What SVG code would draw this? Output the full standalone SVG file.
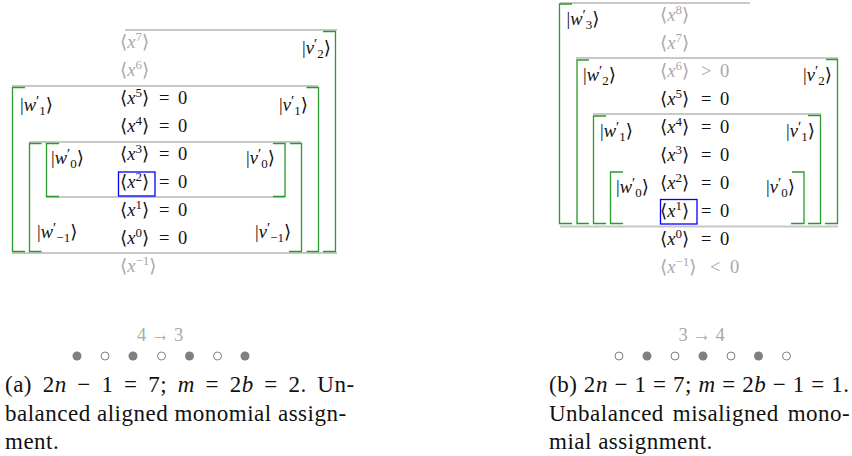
<svg xmlns="http://www.w3.org/2000/svg" width="852" height="456" viewBox="0 0 852 456">
<style>
.bg{fill:#fff}
.gl{stroke:#c8c8c8;stroke-width:2;fill:none}
.gr{stroke:#2a9a2a;stroke-width:1.3;fill:none}
.bx{stroke:#0000ff;stroke-width:1.3;fill:none}
.m{font-family:"Liberation Serif","DejaVu Serif",serif;font-size:18.5px;fill:#111}
.g{fill:#a8a8a8}
.i{font-style:italic}
.s{font-size:13px}
.p{font-size:15px}
.cap{font-family:"Liberation Serif","DejaVu Serif",serif;font-size:23px;letter-spacing:0.5px;fill:#111}
.df{fill:#808080}
.dh{fill:#fff;stroke:#808080;stroke-width:1}
</style>
<rect class="bg" x="0" y="0" width="852" height="456"/>

<!-- ===== Panel (a) ===== -->
<g id="a-lines">
<path class="gl" d="M125,30H337M12,86H318M29,142H301M46,197H285M12,253H337"/>
</g>
<g id="a-connectors">
<path class="gr" d="M25,87.5H12.5V251.5H25"/>
<path class="gr" d="M41.5,143.5H29.5V251.5H41.5"/>
<path class="gr" d="M59,143.5H46.5V196.5H59"/>
<path class="gr" d="M323,31.5H335.5V251.5H323"/>
<path class="gr" d="M306.5,87.5H318.5V251.5H306.5"/>
<path class="gr" d="M290,143.5H301.5V251.5H289"/>
<path class="gr" d="M273,143.5H285V196.5H273"/>
</g>
<g id="a-monomials">
<text class="m g" x="120" y="48">⟨<tspan class="i">x</tspan><tspan class="s" dy="-7">7</tspan><tspan dy="7">⟩</tspan></text>
<text class="m g" x="120" y="76">⟨<tspan class="i">x</tspan><tspan class="s" dy="-7">6</tspan><tspan dy="7">⟩</tspan></text>
<text class="m" x="120" y="104">⟨<tspan class="i">x</tspan><tspan class="s" dy="-7">5</tspan><tspan dy="7">⟩</tspan><tspan x="159">=</tspan><tspan x="178">0</tspan></text>
<text class="m" x="120" y="132">⟨<tspan class="i">x</tspan><tspan class="s" dy="-7">4</tspan><tspan dy="7">⟩</tspan><tspan x="159">=</tspan><tspan x="178">0</tspan></text>
<text class="m" x="120" y="160">⟨<tspan class="i">x</tspan><tspan class="s" dy="-7">3</tspan><tspan dy="7">⟩</tspan><tspan x="159">=</tspan><tspan x="178">0</tspan></text>
<text class="m" x="120" y="188">⟨<tspan class="i">x</tspan><tspan class="s" dy="-7">2</tspan><tspan dy="7">⟩</tspan><tspan x="159">=</tspan><tspan x="178">0</tspan></text>
<text class="m" x="120" y="216">⟨<tspan class="i">x</tspan><tspan class="s" dy="-7">1</tspan><tspan dy="7">⟩</tspan><tspan x="159">=</tspan><tspan x="178">0</tspan></text>
<text class="m" x="120" y="244">⟨<tspan class="i">x</tspan><tspan class="s" dy="-7">0</tspan><tspan dy="7">⟩</tspan><tspan x="159">=</tspan><tspan x="178">0</tspan></text>
<text class="m g" x="120" y="272">⟨<tspan class="i">x</tspan><tspan class="s" dy="-7">−1</tspan><tspan dy="7">⟩</tspan></text>
<rect class="bx" x="118.5" y="172" width="36.5" height="24"/>
</g>
<g id="a-kets">
<text class="m" x="302" y="54">|<tspan class="i">v</tspan><tspan class="p" dy="-5">′</tspan><tspan class="s" dy="9">2</tspan><tspan dy="-4">⟩</tspan></text>
<text class="m" x="20" y="111">|<tspan class="i">w</tspan><tspan class="p" dy="-5">′</tspan><tspan class="s" dy="9">1</tspan><tspan dy="-4">⟩</tspan></text>
<text class="m" x="279" y="111">|<tspan class="i">v</tspan><tspan class="p" dy="-5">′</tspan><tspan class="s" dy="9">1</tspan><tspan dy="-4">⟩</tspan></text>
<text class="m" x="51" y="164">|<tspan class="i">w</tspan><tspan class="p" dy="-5">′</tspan><tspan class="s" dy="9">0</tspan><tspan dy="-4">⟩</tspan></text>
<text class="m" x="246" y="164">|<tspan class="i">v</tspan><tspan class="p" dy="-5">′</tspan><tspan class="s" dy="9">0</tspan><tspan dy="-4">⟩</tspan></text>
<text class="m" x="37" y="238">|<tspan class="i">w</tspan><tspan class="p" dy="-5">′</tspan><tspan class="s" dy="9">−1</tspan><tspan dy="-4">⟩</tspan></text>
<text class="m" x="255" y="238">|<tspan class="i">v</tspan><tspan class="p" dy="-5">′</tspan><tspan class="s" dy="9">−1</tspan><tspan dy="-4">⟩</tspan></text>
</g>
<g id="a-footer">
<text class="m g" x="160" y="341" text-anchor="middle">4 → 3</text>
<circle class="df" cx="77" cy="356" r="4.5"/>
<circle class="dh" cx="105" cy="356" r="4"/>
<circle class="df" cx="133" cy="356" r="4.5"/>
<circle class="dh" cx="161.5" cy="356" r="4"/>
<circle class="df" cx="189.5" cy="356" r="4.5"/>
<circle class="dh" cx="217.5" cy="356" r="4"/>
<circle class="df" cx="245" cy="356" r="4.5"/>
<text class="cap" x="5" y="392" word-spacing="4.4">(a) 2<tspan class="i">n</tspan> − 1 = 7; <tspan class="i">m</tspan> = 2<tspan class="i">b</tspan> = 2. Un-</text>
<text class="cap" x="5" y="420.5">balanced aligned monomial assign-</text>
<text class="cap" x="5" y="449">ment.</text>
</g>

<!-- ===== Panel (b) ===== -->
<g id="b-lines">
<path class="gl" d="M560,3H750M576,58H838M593,114H821M560,226.5H838"/>
</g>
<g id="b-connectors">
<path class="gr" d="M572,4H559.5V223.5H572"/>
<path class="gr" d="M589,60H577V223.5H589"/>
<path class="gr" d="M606,116H593.5V223.5H606"/>
<path class="gr" d="M623,172H610.5V223.5H623"/>
<path class="gr" d="M826,59.5H837.5V223.5H825"/>
<path class="gr" d="M808,115.5H820.5V223.5H808"/>
<path class="gr" d="M792,172H804V223.5H791"/>
</g>
<g id="b-monomials">
<text class="m g" x="660" y="21">⟨<tspan class="i">x</tspan><tspan class="s" dy="-7">8</tspan><tspan dy="7">⟩</tspan></text>
<text class="m g" x="660" y="49">⟨<tspan class="i">x</tspan><tspan class="s" dy="-7">7</tspan><tspan dy="7">⟩</tspan></text>
<text class="m g" x="660" y="77">⟨<tspan class="i">x</tspan><tspan class="s" dy="-7">6</tspan><tspan dy="7">⟩</tspan><tspan x="701">&gt;</tspan><tspan x="720">0</tspan></text>
<text class="m" x="660" y="105">⟨<tspan class="i">x</tspan><tspan class="s" dy="-7">5</tspan><tspan dy="7">⟩</tspan><tspan x="701">=</tspan><tspan x="720">0</tspan></text>
<text class="m" x="660" y="133">⟨<tspan class="i">x</tspan><tspan class="s" dy="-7">4</tspan><tspan dy="7">⟩</tspan><tspan x="701">=</tspan><tspan x="720">0</tspan></text>
<text class="m" x="660" y="161">⟨<tspan class="i">x</tspan><tspan class="s" dy="-7">3</tspan><tspan dy="7">⟩</tspan><tspan x="701">=</tspan><tspan x="720">0</tspan></text>
<text class="m" x="660" y="189">⟨<tspan class="i">x</tspan><tspan class="s" dy="-7">2</tspan><tspan dy="7">⟩</tspan><tspan x="701">=</tspan><tspan x="720">0</tspan></text>
<text class="m" x="660" y="217">⟨<tspan class="i">x</tspan><tspan class="s" dy="-7">1</tspan><tspan dy="7">⟩</tspan><tspan x="701">=</tspan><tspan x="720">0</tspan></text>
<text class="m" x="660" y="245">⟨<tspan class="i">x</tspan><tspan class="s" dy="-7">0</tspan><tspan dy="7">⟩</tspan><tspan x="701">=</tspan><tspan x="720">0</tspan></text>
<text class="m g" x="660" y="273">⟨<tspan class="i">x</tspan><tspan class="s" dy="-7">−1</tspan><tspan dy="7">⟩</tspan><tspan x="710">&lt;</tspan><tspan x="730">0</tspan></text>
<rect class="bx" x="660.5" y="199.5" width="36.5" height="24.5"/>
</g>
<g id="b-kets">
<text class="m" x="566.5" y="25">|<tspan class="i">w</tspan><tspan class="p" dy="-5">′</tspan><tspan class="s" dy="9">3</tspan><tspan dy="-4">⟩</tspan></text>
<text class="m" x="583" y="81">|<tspan class="i">w</tspan><tspan class="p" dy="-5">′</tspan><tspan class="s" dy="9">2</tspan><tspan dy="-4">⟩</tspan></text>
<text class="m" x="803" y="81">|<tspan class="i">v</tspan><tspan class="p" dy="-5">′</tspan><tspan class="s" dy="9">2</tspan><tspan dy="-4">⟩</tspan></text>
<text class="m" x="600" y="137">|<tspan class="i">w</tspan><tspan class="p" dy="-5">′</tspan><tspan class="s" dy="9">1</tspan><tspan dy="-4">⟩</tspan></text>
<text class="m" x="786" y="137">|<tspan class="i">v</tspan><tspan class="p" dy="-5">′</tspan><tspan class="s" dy="9">1</tspan><tspan dy="-4">⟩</tspan></text>
<text class="m" x="616" y="192.5">|<tspan class="i">w</tspan><tspan class="p" dy="-5">′</tspan><tspan class="s" dy="9">0</tspan><tspan dy="-4">⟩</tspan></text>
<text class="m" x="766" y="192.5">|<tspan class="i">v</tspan><tspan class="p" dy="-5">′</tspan><tspan class="s" dy="9">0</tspan><tspan dy="-4">⟩</tspan></text>
</g>
<g id="b-footer">
<text class="m g" x="701.5" y="341" text-anchor="middle">3 → 4</text>
<circle class="dh" cx="619" cy="356" r="4"/>
<circle class="df" cx="647" cy="356" r="4.5"/>
<circle class="dh" cx="675" cy="356" r="4"/>
<circle class="df" cx="703" cy="356" r="4.5"/>
<circle class="dh" cx="731" cy="356" r="4"/>
<circle class="df" cx="758.5" cy="356" r="4.5"/>
<circle class="dh" cx="786.5" cy="356" r="4"/>
<text class="cap" x="549" y="392" word-spacing="0.3">(b) 2<tspan class="i">n</tspan> − 1 = 7; <tspan class="i">m</tspan> = 2<tspan class="i">b</tspan> − 1 = 1.</text>
<text class="cap" x="549" y="420.5" word-spacing="2.7">Unbalanced misaligned mono-</text>
<text class="cap" x="549" y="449">mial assignment.</text>
</g>
</svg>
